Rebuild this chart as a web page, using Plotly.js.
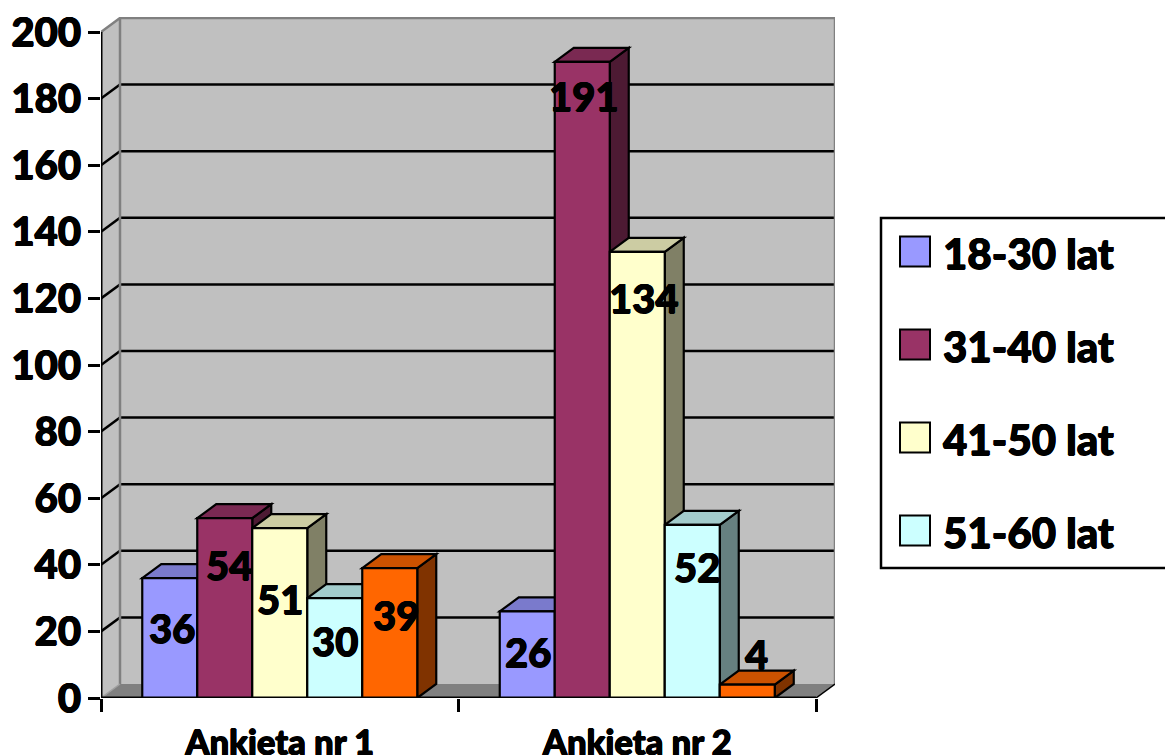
<!DOCTYPE html>
<html><head><meta charset="utf-8">
<script src="https://cdn.plot.ly/plotly-3.0.1.min.js"></script>
<style>html,body{margin:0;padding:0;background:#fff;overflow:hidden}#c{width:1165px;height:756px}</style>
</head><body><div id="c"></div>
<script>
const categories = ["Ankieta nr 1", "Ankieta nr 2"];
const seriesNames = ["18-30 lat", "31-40 lat", "41-50 lat", "51-60 lat", "Seria 5"];
const s1830 = [36, 26];
const s3140 = [54, 191];
const s4150 = [51, 134];
const s5160 = [30, 52];
const s5 = [39, 4];
const seriesValues = [s1830, s3140, s4150, s5160, s5];
const yTicks = [0, 20, 40, 60, 80, 100, 120, 140, 160, 180, 200];
const legendCount = 4;

// styling
const fronts = ["#9999FF", "#993366", "#FFFFCC", "#CCFFFF", "#FF6600"];
const tops   = ["#7A7ACC", "#7A2952", "#CCCCA3", "#A3CCCC", "#CC5200"];
const sides  = ["#4D4D80", "#4D1A33", "#808066", "#668080", "#803300"];
// pixel nudges of data labels, [series][category]
const labelDX = [[2, 1], [4, 2], [0, 6.5], [0, 4.5], [6, 9]];
const labelDY = [[50, 41], [47, 34], [71, 46], [43, 42], [47, -31]];

const L = 101, T = 17, R = 835, B = 698;
const pxX = 357.5, pxY = 3.33;
const dx = 19 / pxX, dy = 14 / pxY;
const xMax = (R - L) / pxX, yMax = (B - T) / pxY;
const barW = 55 / pxX, groupW = barW * seriesValues.length;
const xs = categories.map((c, i) => i + 0.5);
const barLeft = (s, c) => xs[c] - groupW / 2 + s * barW;
const poly = pts => "M" + pts.map(p => p[0] + "," + p[1]).join(" L") + " Z";
const shapes = [];
const base = {xref: "x", yref: "y", layer: "below"};
const yTop = yTicks[yTicks.length - 1];

// walls and floor
shapes.push({...base, type: "path", path: poly([[dx, dy], [2 + dx, dy], [2 + dx, yTop + dy], [dx, yTop + dy]]), fillcolor: "#C0C0C0", line: {width: 0}});
shapes.push({...base, type: "path", path: poly([[0, 0], [dx, dy], [dx, yTop + dy], [0, yTop]]), fillcolor: "#C0C0C0", line: {width: 0}});
shapes.push({...base, type: "path", path: poly([[0, 0], [dx, dy], [2 + dx, dy], [2, 0]]), fillcolor: "#808080", line: {width: 0}});
// gridlines
yTicks.slice(1, -1).forEach(v => {
  shapes.push({...base, type: "line", x0: dx, x1: 2 + dx, y0: v + dy, y1: v + dy, line: {color: "#000", width: 2.5}});
  shapes.push({...base, type: "line", x0: 0, x1: dx, y0: v, y1: v + dy, line: {color: "#000", width: 2.5}});
});
// wall edges
const wallEdge = {color: "#808080", width: 2.5};
shapes.push({...base, type: "path", path: "M0," + yTop + " L" + dx + "," + (yTop + dy) + " L" + (2 + dx) + "," + (yTop + dy) + " L" + (2 + dx) + "," + dy, line: wallEdge});
shapes.push({...base, type: "line", x0: dx, x1: dx, y0: dy, y1: yTop + dy, line: wallEdge});
shapes.push({...base, type: "line", x0: 0, x1: dx, y0: 0, y1: dy, line: {color: "#A0A0A0", width: 1.5}});
shapes.push({...base, type: "line", x0: 2, x1: 2 + dx, y0: 0, y1: dy, line: {color: "#000", width: 1.5}});

// depth faces of each bar, left to right
const edge = {color: "#000", width: 2.2};
categories.forEach((c, ci) => seriesValues.forEach((vals, si) => {
  const a = barLeft(si, ci), b = a + barW, v = vals[ci];
  shapes.push({...base, type: "path", path: poly([[b, 0], [b + dx, dy], [b + dx, v + dy], [b, v]]), fillcolor: sides[si], line: edge});
  shapes.push({...base, type: "path", path: poly([[a, v], [a + dx, v + dy], [b + dx, v + dy], [b, v]]), fillcolor: tops[si], line: edge});
}));

// axes lines
shapes.push({xref: "x", yref: "y", layer: "above", type: "line", x0: 0, x1: 0, y0: 0, y1: yTop, line: {color: "#000", width: 3}});
shapes.push({xref: "x", yref: "y", layer: "above", type: "line", x0: 0, x1: 2, y0: 0, y1: 0, line: {color: "#000", width: 3}});

// legend
const font = "Lato, 'Open Sans', sans-serif";
const heavy = "0.6px 0 0 #000, -0.6px 0 0 #000, 0 0.5px 0 #000, 0 -0.5px 0 #000";
const bigFont = {family: font, size: 40, weight: 900, color: "#000", shadow: heavy};
const W = R - L, H = B - T;
const px = p => (p - L) / W, py = p => (B - p) / H;
const pbase = {xref: "paper", yref: "paper", layer: "above"};
shapes.push({...pbase, type: "path", path: "M" + px(1170) + "," + py(218) + " L" + px(881) + "," + py(218) + " L" + px(881) + "," + py(568) + " L" + px(1170) + "," + py(568), line: {color: "#000", width: 2.5}});
const annotations = [];
seriesNames.slice(0, legendCount).forEach((n, i) => {
  const top = 236 + i * 93;
  shapes.push({...pbase, type: "rect", x0: px(900), x1: px(930), y0: py(top + 30.5), y1: py(top + 0.5), fillcolor: fronts[i], line: {color: "#000", width: 2}});
  annotations.push({xref: "paper", yref: "paper", x: px(941), y: py(top + 17), xanchor: "left", yanchor: "middle", showarrow: false, text: n, font: {family: font, size: 42, weight: 900, color: "#000", shadow: heavy}});
});

// data labels
seriesValues.forEach((vals, si) => vals.forEach((v, ci) => {
  annotations.push({xref: "x", yref: "y", x: barLeft(si, ci) + barW / 2, y: v, xshift: labelDX[si][ci], yshift: -labelDY[si][ci], xanchor: "center", yanchor: "middle", showarrow: false, text: String(v), font: bigFont});
}));

const traces = seriesValues.map((vals, si) => ({
  type: "bar", name: seriesNames[si], x: xs, y: vals,
  marker: {color: fronts[si], line: {color: "#000", width: 2.2}},
  hoverinfo: "x+y+name"
}));

const layout = {
  width: 1165, height: 756, showlegend: false,
  paper_bgcolor: "#fff", plot_bgcolor: "#fff",
  margin: {l: L, r: 1165 - R, t: T, b: 756 - B, pad: 0},
  barmode: "group", bargap: 1 - groupW, bargroupgap: 0,
  xaxis: {
    range: [0, xMax], showgrid: false, zeroline: false, showline: false,
    tickmode: "array", tickvals: xs, ticktext: categories,
    ticks: "", ticklabelstandoff: 21,
    tickfont: {family: font, size: 34.5, weight: 900, color: "#000", shadow: heavy},
    minor: {tickmode: "array", tickvals: [0, 1, 2], ticks: "outside", ticklen: 13, tickwidth: 3, tickcolor: "#000", showgrid: false}
  },
  yaxis: {
    range: [0, yMax], showgrid: false, zeroline: false, showline: false,
    tickmode: "array", tickvals: yTicks,
    ticks: "outside", ticklen: 12, tickwidth: 3, tickcolor: "#000",
    ticklabelstandoff: -1,
    tickfont: bigFont
  },
  shapes, annotations
};
Plotly.newPlot("c", traces, layout, {displayModeBar: false});
</script></body></html>
